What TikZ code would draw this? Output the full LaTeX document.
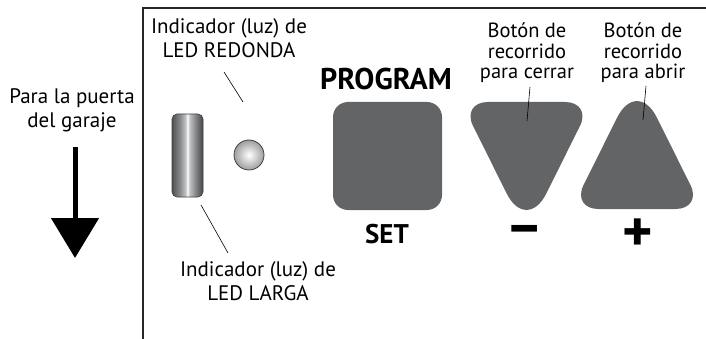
\documentclass[tikz,border=0pt]{standalone}
\usepackage{fontspec}
\setmainfont{PT Sans}
\usetikzlibrary{arrows.meta}
\definecolor{btngray}{HTML}{636466}
\definecolor{ledA}{HTML}{4F5052}
\definecolor{ledB}{HTML}{8A8B8D}
\definecolor{ledC}{HTML}{C4C5C7}
\pgfdeclarehorizontalshading{ledbar}{100bp}{color(0bp)=(ledA); color(25bp)=(ledA); color(38bp)=(ledB); color(47bp)=(ledC); color(50bp)=(white); color(53bp)=(ledC); color(62bp)=(ledB); color(75bp)=(ledA!85!black); color(100bp)=(ledA!85!black)}
\tikzset{
  lbl/.style={align=center,inner sep=0pt,font=\fontsize{21}{24}\selectfont},
  btnlbl/.style={align=center,inner sep=0pt,font=\fontsize{20.5}{20.5}\selectfont},
  big/.style={inner sep=0pt,font=\fontsize{30}{30}\selectfont\bfseries},
  sign/.style={inner sep=0pt,font=\fontsize{58}{58}\selectfont\bfseries},
  pointer/.style={line width=0.6pt},
  btn/.style={fill=btngray,draw=none}
}
\begin{document}
\begin{tikzpicture}[x=1pt,y=-1pt]
	\useasboundingbox (0,0) rectangle (706,339);
	\draw[line width=1.1pt,black!85] (143,339)--(143,8)--(706,8);
	\node[lbl] (garage) at (72,110) {Para la puerta\\del garaje};
	\coordinate (shafttop) at (75,147);
	\coordinate (tip) at (75,258);
	\draw[line width=5pt,-{Triangle[width=47pt,length=40pt]}] (shafttop)--(tip);
	\node[lbl] (redlbl) at (229,38) {Indicador (luz) de\\LED REDONDA};
	\shade[inner color=white,outer color=black!38] (249,155) circle (15);
	\draw[line width=0.8pt,black!75] (249,155) circle (15);
	\coordinate (redfrom) at (224,72);
	\coordinate (redto) at (243,102);
	\draw[pointer] (redfrom)--(redto);
	\shade[shading=ledbar,rounded corners=5pt] (172,114) rectangle (203,197);
	\draw[line width=0.6pt,black!75,rounded corners=5pt] (172,114) rectangle (203,197);
	\node[lbl] (largelbl) at (258,281) {Indicador (luz) de\\LED LARGA};
	\coordinate (largefrom) at (201,205);
	\coordinate (largeto) at (228,253);
	\draw[pointer] (largefrom)--(largeto);
	\node[big] (prog) at (386,79) {PROGRAM};
	\fill[btn,rounded corners=15pt] (333,102) rectangle (442,210);
	\node[big,font=\fontsize{27}{27}\selectfont\bfseries] (set) at (387,234) {SET};
	\fill[btn] (488,102) -- (565,102) .. controls (579.85,102) and (586.6,112.8) .. (579.9,126.1)
		-- (546.2,193.7) .. controls (535.4,215.3) and (517.6,215.3) .. (506.8,193.7)
		-- (473.1,126.1) .. controls (466.4,112.8) and (473.15,102) .. (488,102) -- cycle;
	\fill[btn] (598.5,209) -- (675.5,209) .. controls (690.35,209) and (697.1,198.2) .. (690.4,184.9)
		-- (656.7,117.3) .. controls (645.9,95.7) and (628.1,95.7) .. (617.3,117.3)
		-- (583.6,184.9) .. controls (576.9,198.2) and (583.65,209) .. (598.5,209) -- cycle;
	\node[btnlbl] (closelbl) at (527,53) {Botón de\\recorrido\\para cerrar};
	\node[btnlbl] (openlbl) at (643,53) {Botón de\\recorrido\\para abrir};
	\coordinate (closefrom) at (530,87);
	\coordinate (closeto) at (527,121);
	\coordinate (openfrom) at (646,86);
	\coordinate (opento) at (643,120);
	\draw[pointer] (closefrom)--(closeto);
	\draw[pointer] (openfrom)--(opento);
	\node[sign] (minus) at (525,235) {–};
	\node[sign] (plus) at (638,235) {+};
\end{tikzpicture}
\end{document}
